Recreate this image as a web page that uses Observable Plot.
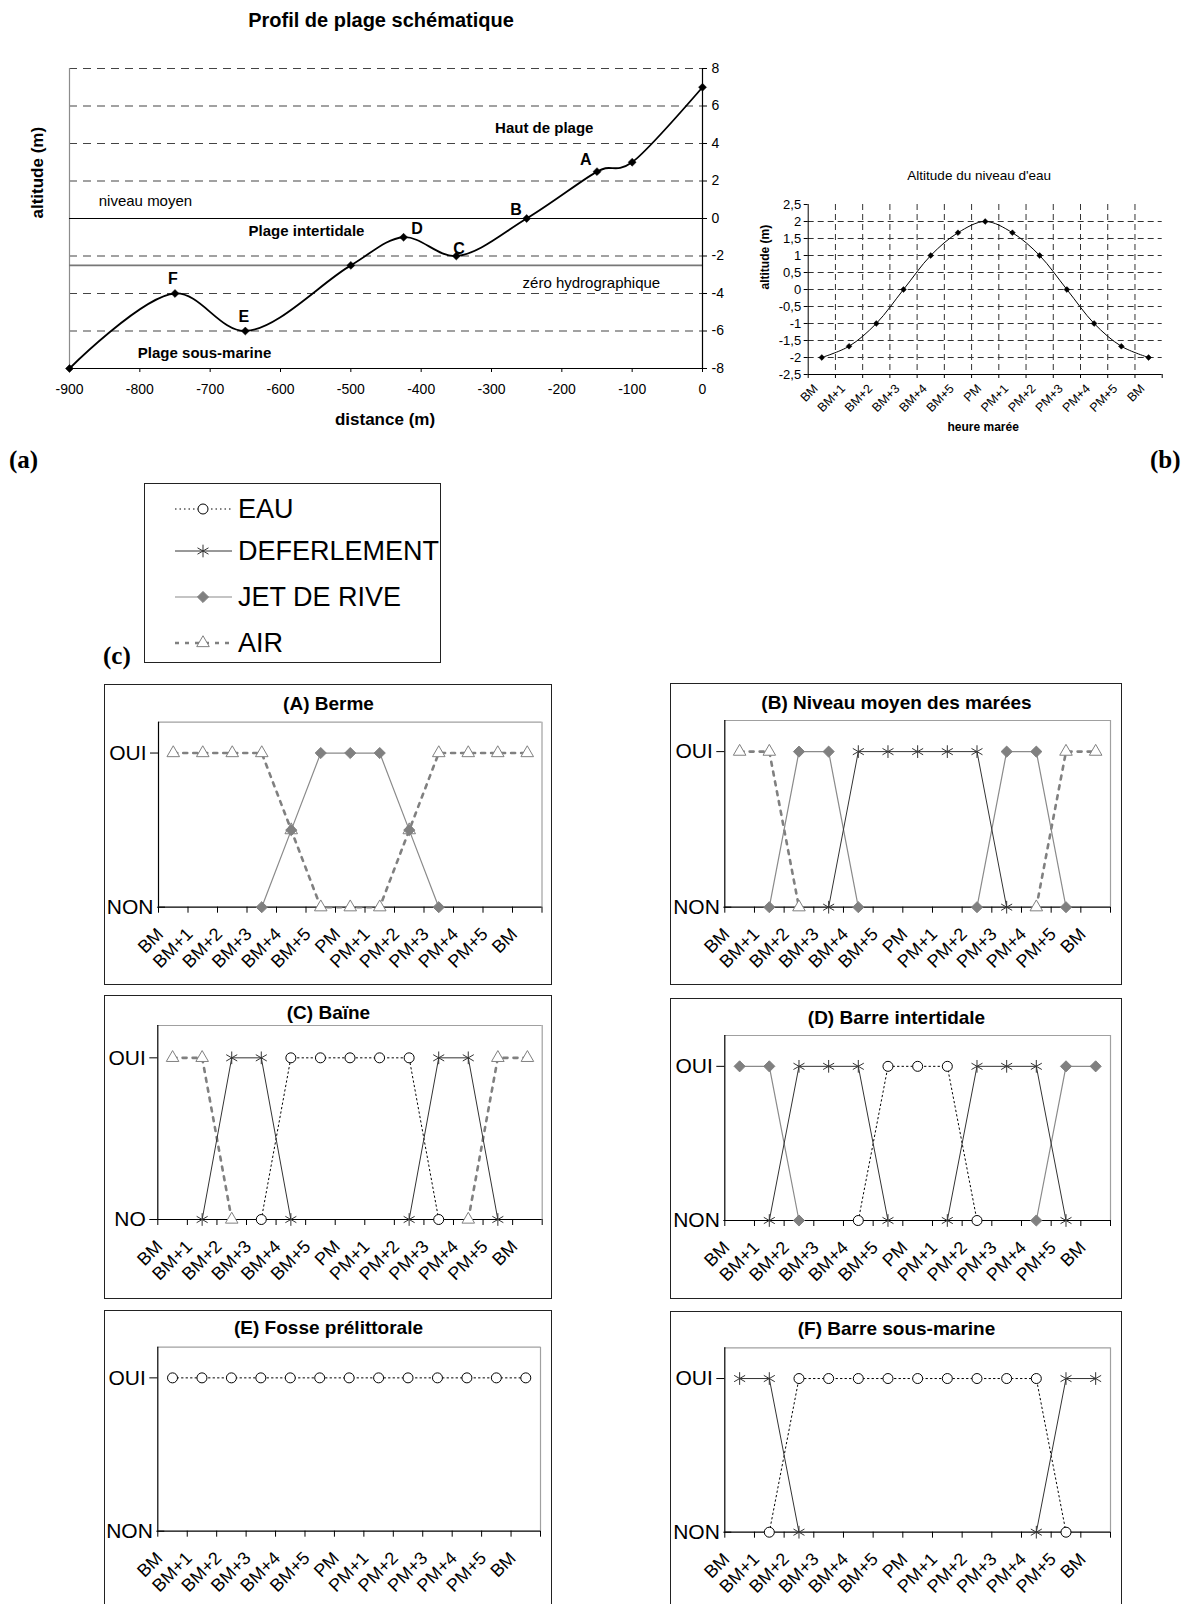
<!DOCTYPE html>
<html><head><meta charset="utf-8">
<script src="https://cdn.jsdelivr.net/npm/d3@7"></script>
<script src="https://cdn.jsdelivr.net/npm/@observablehq/plot@0.6"></script>
<style>
body{margin:0;background:#fff;}
#page{position:relative;width:1186px;height:1604px;overflow:hidden;background:#fff;font-family:"Liberation Sans",Arial,sans-serif;}
.box{position:absolute;border:1.5px solid #222;box-sizing:border-box;pointer-events:none;}
.tag{position:absolute;font-family:"Liberation Serif","Times New Roman",serif;font-weight:bold;font-size:25px;line-height:1;}
</style>
</head><body><div id="page"></div>
<script>
// ---------- DATA ----------
// (a) beach profile
const profileDistance = [-900, -750, -650, -500, -425, -350, -250, -150, -138, -117, -100, 0];
const profileAltitude = [-8, -4, -6, -2.5, -1, -2, 0, 2.5, 2.68, 2.7, 3, 7];
const markerDistance = [-900, -750, -650, -500, -425, -350, -250, -150, -100, 0];
const markerAltitude = [-8, -4, -6, -2.5, -1, -2, 0, 2.5, 3, 7];
const siteLetters = ["A", "B", "C", "D", "E", "F"];
const siteLetterX = [-166, -265, -346, -406, -652, -753];
const siteLetterY = [3.15, 0.44, -1.6, -0.53, -5.24, -3.2];
const zoneNames = ["Haut de plage", "Plage intertidale", "Plage sous-marine"];
const zoneX = [-225, -563, -708];
const zoneY = [4.8, -0.66, -7.17];
const levelNames = ["niveau moyen", "zéro hydrographique"];
const levelX = [-792, -158];
const levelY = [0.92, -3.47];
const levelRules = [0, -2.5];
const gridAltitudes = [8, 6, 4, 2, -2, -4, -6];
const distanceTicks = [-900, -800, -700, -600, -500, -400, -300, -200, -100, 0];
const altitudeTicks = [-8, -6, -4, -2, 0, 2, 4, 6, 8];

// (b) water level
const hours = ["BM", "BM+1", "BM+2", "BM+3", "BM+4", "BM+5", "PM", "PM+1", "PM+2", "PM+3", "PM+4", "PM+5", "BM"];
const waterLevel = [-2, -1.67, -1, 0, 1, 1.67, 2, 1.67, 1, 0, -1, -1.67, -2];
const waterTicks = [-2.5, -2, -1.5, -1, -0.5, 0, 0.5, 1, 1.5, 2, 2.5];

// (c) presence (1 = OUI, 0 = NON, 0.5 = transition, null = absent)
const legendNames = ["EAU", "DEFERLEMENT", "JET DE RIVE", "AIR"];
const panelTitles = ["(A) Berme", "(B) Niveau moyen des marées", "(C) Baïne", "(D) Barre intertidale", "(E) Fosse prélittorale", "(F) Barre sous-marine"];
const yesNoLabels = [["OUI", "NON"], ["OUI", "NON"], ["OUI", "NO"], ["OUI", "NON"], ["OUI", "NON"], ["OUI", "NON"]];
const _ = null;
const bermeAir   = [1, 1, 1, 1, 0.5, 0, 0, 0, 0.5, 1, 1, 1, 1];
const bermeJet   = [_, _, _, 0, 0.5, 1, 1, 1, 0.5, 0, _, _, _];
const niveauAir  = [1, 1, 0, _, _, _, _, _, _, _, 0, 1, 1];
const niveauJet  = [_, 0, 1, 1, 0, _, _, _, 0, 1, 1, 0, _];
const niveauDef  = [_, _, _, 0, 1, 1, 1, 1, 1, 0, _, _, _];
const baineAir   = [1, 1, 0, _, _, _, _, _, _, _, 0, 1, 1];
const baineDef   = [_, 0, 1, 1, 0, _, _, _, 0, 1, 1, 0, _];
const baineEau   = [_, _, _, 0, 1, 1, 1, 1, 1, 0, _, _, _];
const barreJet   = [1, 1, 0, _, _, _, _, _, _, _, 0, 1, 1];
const barreDef   = [_, 0, 1, 1, 1, 0, _, 0, 1, 1, 1, 0, _];
const barreEau   = [_, _, _, _, 0, 1, 1, 1, 0, _, _, _, _];
const fosseEau   = [1, 1, 1, 1, 1, 1, 1, 1, 1, 1, 1, 1, 1];
const sousDef    = [1, 1, 0, _, _, _, _, _, _, _, 0, 1, 1];
const sousEau    = [_, 0, 1, 1, 1, 1, 1, 1, 1, 1, 1, 0, _];

// ---------- STYLES / LAYOUT ----------
const FONT = "'Liberation Sans', Arial, sans-serif";
const seriesStyle = {
  "EAU":         {stroke: "#000", strokeWidth: 1, dash: "1.5,3", symbol: "circle", d3sym: d3.symbolCircle, r: 5, fill: "#fff", mstroke: "#000"},
  "DEFERLEMENT": {stroke: "#333", strokeWidth: 1, dash: null, symbol: "asterisk", d3sym: d3.symbolAsterisk, r: 6, fill: "none", mstroke: "#333"},
  "JET DE RIVE": {stroke: "#8a8a8a", strokeWidth: 1.2, dash: null, symbol: "diamond2", d3sym: d3.symbolDiamond2, r: 5, fill: "#808080", mstroke: "#808080"},
  "AIR":         {stroke: "#808080", strokeWidth: 2.6, dash: "4,6", symbol: "triangle2", d3sym: d3.symbolTriangle2, r: 6, fill: "#fff", mstroke: "#808080"}
};
const page = document.getElementById("page");
function place(node, x, y) {
  node.style.position = "absolute"; node.style.left = x + "px"; node.style.top = y + "px";
  page.appendChild(node);
}
function addBox(x, y, w, h) {
  const d = document.createElement("div"); d.className = "box";
  d.style.left = x + "px"; d.style.top = y + "px"; d.style.width = w + "px"; d.style.height = h + "px";
  page.appendChild(d);
}
function addTag(text, x, y) {
  const d = document.createElement("div"); d.className = "tag"; d.textContent = text;
  d.style.left = x + "px"; d.style.top = y + "px"; page.appendChild(d);
}
const fmtHyphen = d => String(d);
const fmtComma = d => String(d).replace(".", ",");

// ---------- (a) PROFIL ----------
{
  const W = 760, H = 440, L = 69, R = 702, T = 68, B = 368;
  const profile = profileDistance.map((x, i) => ({x, y: profileAltitude[i]}));
  const markers = markerDistance.map((x, i) => ({x, y: markerAltitude[i]}));
  const letters = siteLetters.map((t, i) => ({t, x: siteLetterX[i], y: siteLetterY[i]}));
  const zones = zoneNames.map((t, i) => ({t, x: zoneX[i], y: zoneY[i]}));
  const levels = levelNames.map((t, i) => ({t, x: levelX[i], y: levelY[i]}));
  const chart = Plot.plot({
    width: W, height: H, marginLeft: L, marginRight: W - R, marginTop: T, marginBottom: H - B,
    x: {domain: [-900, 0]}, y: {domain: [-8, 8]},
    style: {fontFamily: FONT, fontSize: "14px", color: "#000", background: "transparent", overflow: "visible"},
    marks: [
      Plot.ruleY(gridAltitudes, {stroke: "#444", strokeDasharray: "8,6", strokeWidth: 1.1}),
      Plot.ruleX([-900], {stroke: "#8c8c8c", strokeWidth: 1.2}),
      Plot.ruleY([levelRules[0]], {stroke: "#000", strokeWidth: 1.2}),
      Plot.ruleY([levelRules[1]], {stroke: "#777", strokeWidth: 1.8}),
      Plot.ruleY([-8], {stroke: "#000", strokeWidth: 1.2}),
      Plot.ruleX([0], {stroke: "#000", strokeWidth: 1.2}),
      Plot.line(profile, {x: "x", y: "y", curve: "catmull-rom", stroke: "#000", strokeWidth: 1.8}),
      Plot.dot(markers, {x: "x", y: "y", symbol: "diamond2", r: 3.6, fill: "#000", stroke: "#000", strokeWidth: 0.5}),
      Plot.text(letters, {x: "x", y: "y", text: "t", fontSize: 16, fontWeight: "bold"}),
      Plot.text(zones, {x: "x", y: "y", text: "t", fontSize: 15, fontWeight: "bold"}),
      Plot.text(levels, {x: "x", y: "y", text: "t", fontSize: 15}),
      Plot.axisY({anchor: "right", ticks: altitudeTicks, tickFormat: fmtHyphen, tickSize: 4, tickPadding: 5, label: null}),
      Plot.axisX({ticks: distanceTicks, tickFormat: fmtHyphen, tickSize: 4, tickPadding: 12, label: null}),
      Plot.text(["Profil de plage schématique"], {text: d => d, frameAnchor: "top", lineAnchor: "middle", dy: -48, dx: -5, fontSize: 20, fontWeight: "bold"}),
      Plot.text(["distance (m)"], {text: d => d, frameAnchor: "bottom", lineAnchor: "middle", dy: 51, dx: -1, fontSize: 17, fontWeight: "bold"}),
      Plot.text(["altitude (m)"], {text: d => d, frameAnchor: "left", lineAnchor: "middle", rotate: -90, dx: -32, fontSize: 17, fontWeight: "bold"})
    ]
  });
  place(chart, 0, 0);
}

// ---------- (b) NIVEAU D'EAU ----------
{
  const X0 = 740, Y0 = 155, W = 440, H = 285;
  const L = 807.7 - X0, R = 1161.7 - X0, T = 204 - Y0, B = 374 - Y0;
  const tide = waterLevel.map((y, i) => ({i, y}));
  const boundaries = d3.range(-0.5, 12.6, 1);
  const chart = Plot.plot({
    width: W, height: H, marginLeft: L, marginRight: W - R, marginTop: T, marginBottom: H - B,
    x: {domain: [-0.5, 12.5]}, y: {domain: [-2.5, 2.5]},
    style: {fontFamily: FONT, fontSize: "12.5px", color: "#000", background: "transparent", overflow: "visible"},
    marks: [
      Plot.ruleY(waterTicks.filter(v => Math.abs(v) < 2.5), {stroke: "#333", strokeDasharray: "6,4"}),
      Plot.ruleX(boundaries.filter(v => v > 0 && v < 12), {stroke: "#333", strokeDasharray: "6,4"}),
      Plot.ruleX([-0.5], {stroke: "#000"}),
      Plot.ruleY([-2.5], {stroke: "#000"}),
      Plot.line(tide, {x: "i", y: "y", curve: "catmull-rom", stroke: "#000", strokeWidth: 1}),
      Plot.dot(tide, {x: "i", y: "y", symbol: "diamond2", r: 2.6, fill: "#000", stroke: "#000", strokeWidth: 0.5}),
      Plot.axisY({ticks: waterTicks, tickFormat: fmtComma, tickSize: 4, tickPadding: 3, fontSize: 13, label: null}),
      Plot.axisX({ticks: boundaries, tickFormat: () => "", tickSize: 4, label: null}),
      Plot.axisX({ticks: d3.range(13), tickFormat: i => hours[i], tickSize: 0, tickPadding: 8, tickRotate: -45, dx: -6, dy: 4, label: null}),
      Plot.text(["Altitude du niveau d'eau"], {text: d => d, frameAnchor: "top", lineAnchor: "middle", dy: -29, dx: -6, fontSize: 13.5}),
      Plot.text(["altitude (m)"], {text: d => d, frameAnchor: "left", lineAnchor: "middle", rotate: -90, dx: -43, fontSize: 12, fontWeight: "bold"}),
      Plot.text(["heure marée"], {text: d => d, frameAnchor: "bottom", lineAnchor: "middle", dy: 53, dx: -2, fontSize: 12, fontWeight: "bold"})
    ]
  });
  place(chart, X0, Y0);
}

// ---------- (c) LEGEND ----------
{
  const X0 = 144, Y0 = 483, W = 297, H = 180;
  const rowY = [26, 68, 114, 160];
  const svg = d3.create("svg").attr("width", W).attr("height", H).style("overflow", "visible");
  legendNames.forEach((name, i) => {
    const s = seriesStyle[name];
    const g = svg.append("g").attr("transform", `translate(0,${rowY[i]})`);
    g.append("line").attr("x1", 31).attr("x2", 88).attr("y1", 0).attr("y2", 0)
      .attr("stroke", s.stroke).attr("stroke-width", s.strokeWidth).attr("stroke-dasharray", s.dash);
    g.append("path").attr("transform", "translate(59,0)")
      .attr("d", d3.symbol().type(s.d3sym).size(Math.PI * s.r * s.r)())
      .attr("fill", s.fill).attr("stroke", s.mstroke);
    g.append("text").attr("x", 94).attr("y", 0).attr("dy", "0.35em")
      .attr("font-family", FONT).attr("font-size", 27).text(name);
  });
  place(svg.node(), X0, Y0);
  addBox(X0, Y0, W, H);
}

// ---------- (c) PANELS ----------
const panelSeries = [
  {"AIR": bermeAir, "JET DE RIVE": bermeJet},
  {"AIR": niveauAir, "JET DE RIVE": niveauJet, "DEFERLEMENT": niveauDef},
  {"AIR": baineAir, "DEFERLEMENT": baineDef, "EAU": baineEau},
  {"JET DE RIVE": barreJet, "DEFERLEMENT": barreDef, "EAU": barreEau},
  {"EAU": fosseEau},
  {"DEFERLEMENT": sousDef, "EAU": sousEau}
];
const panelLayout = [
  {box: [104, 684, 448, 301], plot: [158, 541.5, 721.7, 906.7], titleY: 703},
  {box: [670, 683, 452, 302], plot: [724.3, 1110, 720, 906.7], titleY: 702},
  {box: [104, 995, 448, 304], plot: [157.3, 541.7, 1025, 1219], titleY: 1012},
  {box: [670, 998, 452, 301], plot: [724.3, 1110, 1035, 1220], titleY: 1017},
  {box: [104, 1310, 448, 300], plot: [157.3, 540, 1346.7, 1530.7], titleY: 1327},
  {box: [670, 1311, 452, 300], plot: [724.3, 1110, 1347.3, 1531.7], titleY: 1328}
];
panelTitles.forEach((title, p) => {
  const {box: [bx, by, bw, bh], plot: [pl, pr, pt, pb], titleY} = panelLayout[p];
  const labels = yesNoLabels[p];
  const boundaries = d3.range(-0.5, 12.6, 1);
  const nonShift = labels[1] === "NON" ? 7 : 0;
  const marks = [
    Plot.ruleY([1.2], {stroke: "#a0a0a0", strokeWidth: 1.2}),
    Plot.ruleX([12.5], {stroke: "#a0a0a0", strokeWidth: 1.2}),
    Plot.ruleX([-0.5], {stroke: "#000", strokeWidth: 1.2}),
    Plot.ruleY([0], {stroke: "#000", strokeWidth: 1.2}),
    Plot.axisY({ticks: [1], tickFormat: () => labels[0], tickSize: 8, tickPadding: 4, fontSize: 21, label: null}),
    Plot.axisY({ticks: [0], tickFormat: () => labels[1], tickSize: 8, tickPadding: 4, dx: nonShift, fontSize: 21, label: null}),
    Plot.axisX({ticks: boundaries, tickFormat: () => "", tickSize: 6, label: null}),
    Plot.axisX({ticks: d3.range(13), tickFormat: i => hours[i], tickSize: 0, tickPadding: 14, tickRotate: -45, dx: -13, dy: 10, fontSize: 18, label: null})
  ];
  const order = ["AIR", "JET DE RIVE", "EAU", "DEFERLEMENT"];
  order.forEach(name => {
    const vals = panelSeries[p][name];
    if (!vals) return;
    const s = seriesStyle[name];
    const data = vals.map((v, i) => ({i, v}));
    marks.push(Plot.line(data, {x: "i", y: "v", stroke: s.stroke, strokeWidth: s.strokeWidth, strokeDasharray: s.dash}));
  });
  order.forEach(name => {
    const vals = panelSeries[p][name];
    if (!vals) return;
    const s = seriesStyle[name];
    const data = vals.map((v, i) => ({i, v})).filter(d => d.v != null);
    marks.push(Plot.dot(data, {x: "i", y: "v", symbol: s.symbol, r: s.r, fill: s.fill, stroke: s.mstroke, strokeWidth: 1}));
  });
  marks.push(Plot.text([title], {text: d => d, frameAnchor: "top", lineAnchor: "middle", dy: titleY - pt, dx: (bx + bw / 2) - (pl + pr) / 2, fontSize: 19, fontWeight: "bold"}));
  const chart = Plot.plot({
    width: bw, height: bh, marginLeft: pl - bx, marginRight: bx + bw - pr, marginTop: pt - by, marginBottom: by + bh - pb,
    x: {domain: [-0.5, 12.5]}, y: {domain: [0, 1.2]},
    style: {fontFamily: FONT, fontSize: "18px", color: "#000", background: "transparent", overflow: "visible"},
    marks
  });
  place(chart, bx, by);
  addBox(bx, by, bw, bh);
});

// ---------- TAGS ----------
addTag("(a)", 9, 447);
addTag("(b)", 1150, 447);
addTag("(c)", 103, 643);
</script>
</body></html>
